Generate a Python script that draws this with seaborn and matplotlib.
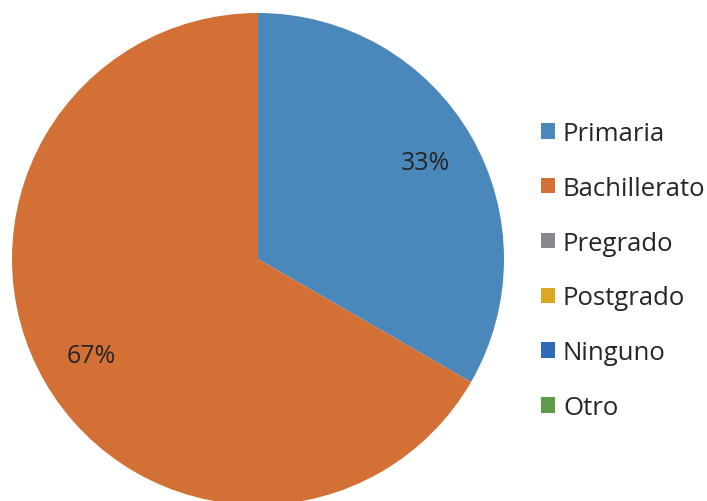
import matplotlib
matplotlib.use("Agg")
import matplotlib.pyplot as plt
from matplotlib.patches import Patch
import seaborn as sns

categories = ["Primaria", "Bachillerato", "Pregrado", "Postgrado", "Ninguno", "Otro"]
values = [1, 2, 0, 0, 0, 0]
colors = ["#4A88BC", "#D37036", "#868A8E", "#DDA726", "#2E6BB6", "#5E9C4B"]

sns.set_theme(style="white")
plt.rcParams['font.family'] = ['Open Sans', 'DejaVu Sans']

fig = plt.figure(figsize=(7.07, 5.02), dpi=100)
ax = fig.add_axes([12/707, -4/502, 492/707, 492/502])

pie_vals = [v for v in values if v > 0]
pie_cols = [c for v, c in zip(values, colors) if v > 0]
wedges, texts, autotexts = ax.pie(
    pie_vals, colors=pie_cols, startangle=90, counterclock=False,
    autopct=lambda p: f"{p:.0f}%", pctdistance=0.785,
    wedgeprops=dict(linewidth=0),
    textprops=dict(fontsize=18, color="#262626"),
)
ax.set_xlim(-1, 1)
ax.set_ylim(-1, 1)
ax.set_aspect("auto")
ax.axis("off")

handles = [Patch(facecolor=c, edgecolor="none") for c in colors]
leg = fig.legend(handles, categories, loc="center left",
                 bbox_to_anchor=(518/707, 1 - 271.5/502), frameon=False,
                 fontsize=18.5, labelcolor="#262626",
                 handlelength=0.55, handleheight=0.55, handletextpad=0.3,
                 labelspacing=1.16)

fig.savefig("out.png", dpi=100)
